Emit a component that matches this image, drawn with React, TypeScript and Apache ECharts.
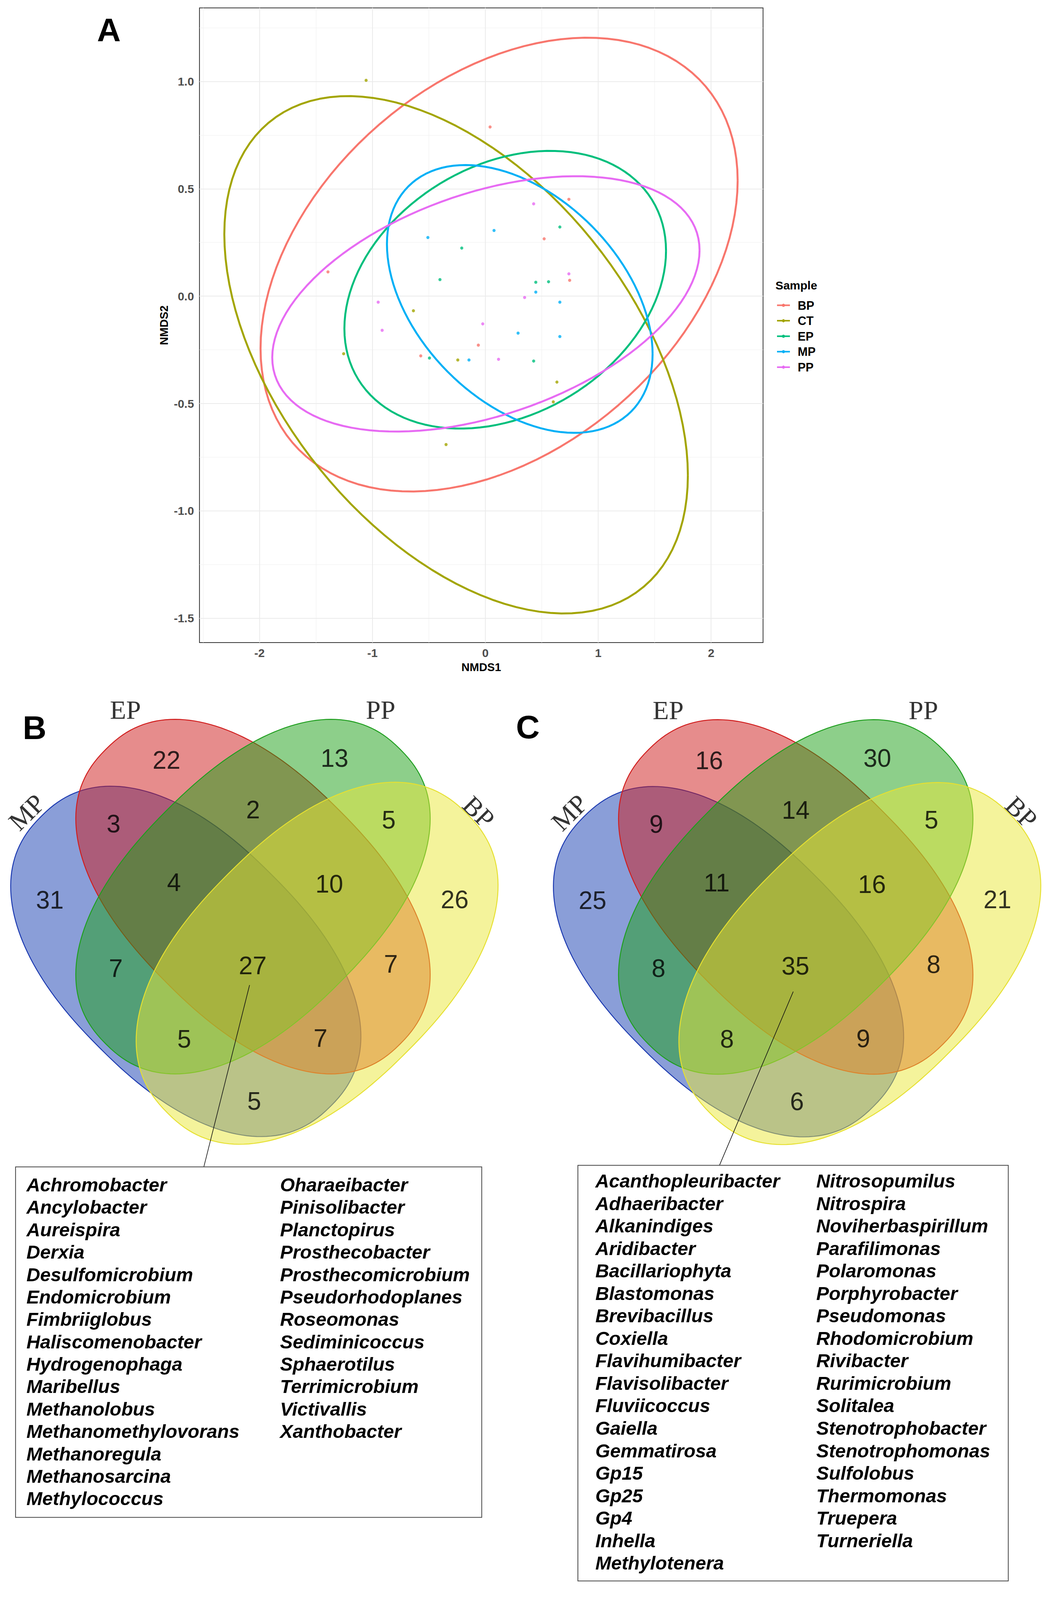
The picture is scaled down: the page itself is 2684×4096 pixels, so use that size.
import React, { useEffect, useRef } from 'react';
import * as echarts from 'echarts';

const W = 2684;
const H = 4096;
const K = 0.797; // reference px -> output px
const SANS = "'Liberation Sans', Arial, sans-serif";
const SERIF = "'Liberation Serif', 'Times New Roman', serif";

// ---------------- Panel A data ----------------
const groups = ['BP', 'CT', 'EP', 'MP', 'PP'];
const groupColors = ['#F8766D', '#A3A500', '#00BF7D', '#00B0F6', '#E76BF3'];

const ptsBP = [[0.042, 0.788], [0.740, 0.451], [0.521, 0.267], [-1.394, 0.113], [0.747, 0.074], [-0.062, -0.228], [-0.572, -0.278]];
const ptsCT = [[-1.056, 1.005], [-0.637, -0.068], [-1.255, -0.268], [-0.244, -0.297], [0.634, -0.400], [0.602, -0.492], [-0.348, -0.691]];
const ptsEP = [[0.660, 0.322], [-0.209, 0.224], [-0.402, 0.077], [0.447, 0.065], [0.560, 0.067], [-0.495, -0.288], [0.428, -0.302]];
const ptsMP = [[0.077, 0.306], [-0.509, 0.273], [0.447, 0.019], [0.660, -0.028], [0.290, -0.172], [0.660, -0.188], [-0.145, -0.297]];
const ptsPP = [[0.428, 0.430], [0.740, 0.104], [0.348, -0.006], [-0.949, -0.028], [-0.023, -0.129], [-0.914, -0.159], [0.117, -0.294]];
const groupPoints = [ptsBP, ptsCT, ptsEP, ptsMP, ptsPP];

// confidence ellipses (centre, half extent in x / y, correlation)
const ellCenterX = [0.122, -0.259, 0.176, 0.305, 0.005];
const ellCenterY = [0.147, -0.273, 0.030, -0.013, -0.036];
const ellHalfX = [2.113, 2.053, 1.4245, 1.1765, 1.8925];
const ellHalfY = [1.0565, 1.2045, 0.6465, 0.6235, 0.5945];
const ellCorr = [0.37, -0.466, 0.28, -0.41, 0.42];

const X_MIN = -2.532;
const X_MAX = 2.46;
const Y_MIN = -1.613;
const Y_MAX = 1.342;
const xMajor = [-2, -1, 0, 1, 2];
const xMinor = [-2.5, -1.5, -0.5, 0.5, 1.5];
const yMajor = [-1.5, -1, -0.5, 0, 0.5, 1];
const yMinor = [-1.25, -0.75, -0.25, 0.25, 0.75, 1.25];

// ---------------- Venn data ----------------
const vennSets = ['MP', 'EP', 'PP', 'BP'];
const vennRegions = ['EP', 'PP', 'MP&EP', 'EP&PP', 'PP&BP', 'MP', 'MP&EP&PP', 'EP&PP&BP', 'BP', 'MP&PP', 'MP&EP&PP&BP', 'EP&BP', 'MP&PP&BP', 'MP&EP&BP', 'MP&BP'];
const countsB = [22, 13, 3, 2, 5, 31, 4, 10, 26, 7, 27, 7, 5, 7, 5];
const countsC = [16, 30, 9, 14, 5, 25, 11, 16, 21, 8, 35, 8, 8, 9, 6];

const listB1 = ['Achromobacter', 'Ancylobacter', 'Aureispira', 'Derxia', 'Desulfomicrobium', 'Endomicrobium', 'Fimbriiglobus', 'Haliscomenobacter', 'Hydrogenophaga', 'Maribellus', 'Methanolobus', 'Methanomethylovorans', 'Methanoregula', 'Methanosarcina', 'Methylococcus'];
const listB2 = ['Oharaeibacter', 'Pinisolibacter', 'Planctopirus', 'Prosthecobacter', 'Prosthecomicrobium', 'Pseudorhodoplanes', 'Roseomonas', 'Sediminicoccus', 'Sphaerotilus', 'Terrimicrobium', 'Victivallis', 'Xanthobacter'];
const listC1 = ['Acanthopleuribacter', 'Adhaeribacter', 'Alkanindiges', 'Aridibacter', 'Bacillariophyta', 'Blastomonas', 'Brevibacillus', 'Coxiella', 'Flavihumibacter', 'Flavisolibacter', 'Fluviicoccus', 'Gaiella', 'Gemmatirosa', 'Gp15', 'Gp25', 'Gp4', 'Inhella', 'Methylotenera'];
const listC2 = ['Nitrosopumilus', 'Nitrospira', 'Noviherbaspirillum', 'Parafilimonas', 'Polaromonas', 'Porphyrobacter', 'Pseudomonas', 'Rhodomicrobium', 'Rivibacter', 'Rurimicrobium', 'Solitalea', 'Stenotrophobacter', 'Stenotrophomonas', 'Sulfolobus', 'Thermomonas', 'Truepera', 'Turneriella'];

// ---------------- Venn layout (units = reference px around the diagram centre) ----------------
const VENN_EXP = 2.3; // superellipse exponent of the set shapes
const vennShapeCenter = [[-216, 208], [0, 0], [0, 0], [206, 214]];
const vennShapeA = [658, 669, 669, 680];
const vennShapeB = [392, 392, 392, 405];
const vennShapeRot = [-1, -1, 1, 1];
const vennFill = ['rgba(21,61,177,0.5)', 'rgba(205,25,25,0.5)', 'rgba(27,159,21,0.5)', 'rgba(233,231,55,0.5)'];
const vennStroke = ['#1A38B0', '#D01C1C', '#1E9E1E', '#E6E030'];
const regionPos = [[-278, -438], [262, -445], [-448, -234], [0, -279], [436, -247], [-653, 11], [-254, -45], [245, -40], [648, 9], [-441, 230], [-1, 222], [443, 217], [-221, 457], [217, 455], [4, 657]];
const setLabelPos = [[-727, -271], [-410, -600], [410, -600], [725, -272]];
const setLabelRot = [45, 0, 0, -45];
const leaderB = [[-11, 284], [-158, 868]];
const leaderC = [[-8, 304], [-245, 862]];
const vennCentersRef = [[813, 2880], [2557, 2881]];

function ellipseOutline(i: number) {
  const pts: number[][] = [];
  const n = 120;
  const r = ellCorr[i];
  const q = Math.sqrt(1 - r * r);
  for (let k = 0; k <= n; k++) {
    const t = (2 * Math.PI * k) / n;
    pts.push([ellCenterX[i] + ellHalfX[i] * Math.cos(t), ellCenterY[i] + ellHalfY[i] * (r * Math.cos(t) + q * Math.sin(t))]);
  }
  return pts;
}

function shapePoints(cx: number, cy: number, scale: number, rot: number, A: number, B: number) {
  const pts: number[][] = [];
  const n = 180;
  const e = 2 / VENN_EXP;
  const s2 = Math.SQRT1_2;
  for (let k = 0; k < n; k++) {
    const t = (2 * Math.PI * k) / n;
    const c = Math.cos(t);
    const s = Math.sin(t);
    const p = A * Math.sign(c) * Math.pow(Math.abs(c), e);
    const q = B * Math.sign(s) * Math.pow(Math.abs(s), e);
    const u = (p + q) * s2;
    const v = rot < 0 ? (p - q) * s2 : (q - p) * s2;
    pts.push([cx + u * scale, cy + v * scale]);
  }
  return pts;
}

function buildOption() {
  const gridA = { left: 641 * K, top: 25.5 * K, width: (2452 - 641) * K, height: (2064 - 25.5) * K };
  const vw = 1600 * K;
  const vh = 1700 * K;
  const vennGrids = vennCentersRef.map((c) => ({ left: c[0] * K - 800 * K, top: c[1] * K - 800 * K, width: vw, height: vh }));

  const axisLabelStyle = { color: '#4D4D4D', fontWeight: 'bold', fontSize: 30, fontFamily: SANS };
  const gridLines = [
    ...xMinor.map((v) => ({ xAxis: v, lineStyle: { color: '#F0F0F0', width: 1.2, type: 'solid' } })),
    ...yMinor.map((v) => ({ yAxis: v, lineStyle: { color: '#F0F0F0', width: 1.2, type: 'solid' } })),
    ...xMajor.map((v) => ({ xAxis: v, lineStyle: { color: '#EBEBEB', width: 2, type: 'solid' } })),
    ...yMajor.map((v) => ({ yAxis: v, lineStyle: { color: '#EBEBEB', width: 2, type: 'solid' } })),
  ];

  const series: any[] = [];
  groups.forEach((g, i) => {
    series.push({
      type: 'line', name: g, xAxisIndex: 0, yAxisIndex: 0, data: ellipseOutline(i), showSymbol: false, symbol: 'circle', symbolSize: 8,
      lineStyle: { color: groupColors[i], width: 5 }, itemStyle: { color: groupColors[i] }, z: 4, silent: true, smooth: false,
    });
  });
  series.push({
    type: 'scatter', name: '_grid', xAxisIndex: 0, yAxisIndex: 0, data: [], silent: true, z: 1,
    markLine: { silent: true, z: 1, symbol: ['none', 'none'], label: { show: false }, emphasis: { disabled: true }, data: gridLines },
  });
  groups.forEach((g, i) => {
    series.push({
      type: 'scatter', name: g, xAxisIndex: 0, yAxisIndex: 0, data: groupPoints[i], symbolSize: 8, z: 3,
      itemStyle: { color: groupColors[i] }, silent: true,
    });
  });

  const counts = [countsB, countsC];
  const leaders = [leaderB, leaderC];
  [1, 2].forEach((gi, k) => {
    series.push({
      type: 'custom', name: 'venn' + gi, xAxisIndex: gi, yAxisIndex: gi, clip: false, silent: true, z: 2,
      data: vennShapeCenter.map((c, i) => [c[0], c[1], vennShapeRot[i], i]),
      renderItem: (params: any, api: any) => {
        const i = api.value(3);
        const p = api.coord([api.value(0), api.value(1)]);
        const scale = Math.abs(api.size([1, 1])[0]);
        return {
          type: 'polygon',
          shape: { points: shapePoints(p[0], p[1], scale, api.value(2), vennShapeA[i], vennShapeB[i]) },
          style: { fill: vennFill[i], stroke: vennStroke[i], lineWidth: 2.4 },
        };
      },
    });
    series.push({
      type: 'scatter', name: 'counts' + gi, xAxisIndex: gi, yAxisIndex: gi, silent: true, z: 5, symbolSize: 1,
      itemStyle: { color: 'rgba(0,0,0,0)' },
      data: regionPos.map((p, i) => ({ name: vennRegions[i], value: [p[0], p[1], counts[k][i]] })),
      label: { show: true, position: 'inside', formatter: (p: any) => String(p.value[2]), color: '#000', fontSize: 64, fontFamily: SANS },
    });
    series.push({
      type: 'scatter', name: 'sets' + gi, xAxisIndex: gi, yAxisIndex: gi, silent: true, z: 5, symbolSize: 1,
      itemStyle: { color: 'rgba(0,0,0,0)' },
      data: vennSets.map((s, i) => ({ name: s, value: setLabelPos[i], label: { rotate: setLabelRot[i] } })),
      label: { show: true, position: 'inside', formatter: '{b}', color: '#000', fontSize: 68, fontFamily: SERIF },
    });
    series.push({
      type: 'line', name: 'leader' + gi, xAxisIndex: gi, yAxisIndex: gi, data: leaders[k], showSymbol: false, symbol: 'none',
      clip: false, silent: true, z: 6, lineStyle: { color: '#111', width: 1.6 },
    });
  });

  const textEl = (text: string, x: number, y: number, font: string, align = 'center', vAlign = 'middle', extra: any = {}) => ({
    type: 'text', x, y, silent: true, z: 10,
    style: { text, font, fill: '#000', align, verticalAlign: vAlign, textAlign: align, textVerticalAlign: vAlign, ...extra },
  });
  const listFont = `italic bold 48.6px ${SANS}`;
  const graphic: any[] = [
    textEl('A', 350 * K, 97 * K, `bold 84px ${SANS}`),
    textEl('B', 111 * K, 2338 * K, `bold 84px ${SANS}`),
    textEl('C', 1696 * K, 2335 * K, `bold 84px ${SANS}`),
    textEl('Sample', 2492 * K, 917 * K, `bold 30px ${SANS}`, 'left'),
    { type: 'rect', silent: true, z: 9, shape: { x: 50 * K, y: 3748 * K, width: (1548 - 50) * K, height: (4874 - 3748) * K }, style: { fill: 'none', stroke: '#444', lineWidth: 2 } },
    { type: 'rect', silent: true, z: 9, shape: { x: 1857 * K, y: 3743 * K, width: (3240 - 1857) * K, height: (5078 - 3743) * K }, style: { fill: 'none', stroke: '#444', lineWidth: 2 } },
    textEl(listB1.join('\n'), 85 * K, 3805.5 * K - 28.7, listFont, 'left', 'top', { lineHeight: 72 * K }),
    textEl(listB2.join('\n'), 900 * K, 3805.5 * K - 28.7, listFont, 'left', 'top', { lineHeight: 72 * K }),
    textEl(listC1.join('\n'), 1913 * K, 3793 * K - 28.75, listFont, 'left', 'top', { lineHeight: 72.2 * K }),
    textEl(listC2.join('\n'), 2623 * K, 3793 * K - 28.75, listFont, 'left', 'top', { lineHeight: 72.2 * K }),
  ];

  return {
    animation: false,
    backgroundColor: '#ffffff',
    grid: [
      { ...gridA, show: true, borderColor: '#333333', borderWidth: 2, backgroundColor: '#ffffff' },
      ...vennGrids,
    ],
    xAxis: [
      {
        gridIndex: 0, type: 'value', min: X_MIN, max: X_MAX,
        name: 'NMDS1', nameLocation: 'middle', nameGap: 48,
        nameTextStyle: { color: '#000', fontWeight: 'bold', fontSize: 29, fontFamily: SANS },
        axisLine: { show: false },
        axisTick: { show: true, customValues: xMajor, length: 6.4, lineStyle: { color: '#333', width: 2 } },
        axisLabel: { customValues: xMajor, margin: 11, ...axisLabelStyle, formatter: (v: number) => String(v) },
        splitLine: { show: false },
      },
      { gridIndex: 1, type: 'value', min: -800, max: 800, show: false },
      { gridIndex: 2, type: 'value', min: -800, max: 800, show: false },
    ],
    yAxis: [
      {
        gridIndex: 0, type: 'value', min: Y_MIN, max: Y_MAX,
        name: 'NMDS2', nameLocation: 'middle', nameGap: 70,
        nameTextStyle: { color: '#000', fontWeight: 'bold', fontSize: 29, fontFamily: SANS },
        axisLine: { show: false },
        axisTick: { show: true, customValues: yMajor, length: 6.4, lineStyle: { color: '#333', width: 2 } },
        axisLabel: { customValues: yMajor, margin: 14, ...axisLabelStyle, formatter: (v: number) => v.toFixed(1) },
        splitLine: { show: false },
      },
      { gridIndex: 1, type: 'value', min: -800, max: 900, inverse: true, show: false },
      { gridIndex: 2, type: 'value', min: -800, max: 900, inverse: true, show: false },
    ],
    legend: {
      data: groups,
      orient: 'vertical',
      left: 1988,
      top: 766,
      padding: 0,
      itemWidth: 33,
      itemHeight: 10,
      itemGap: 8.6,
      selectedMode: false,
      lineStyle: { width: 4 },
      formatter: (name: string) => `{g|}${name}`,
      textStyle: {
        color: '#000', fontWeight: 'bold', fontSize: 30.5, fontFamily: SANS, lineHeight: 30,
        rich: { g: { width: 15 } },
      },
    },
    series,
    graphic,
  };
}

export default function App() {
  const ref = useRef<HTMLDivElement>(null);
  useEffect(() => {
    const chart = echarts.init(ref.current as HTMLDivElement, null, { renderer: 'svg', width: W, height: H });
    chart.setOption(buildOption() as any);
    return () => chart.dispose();
  }, []);
  return <div ref={ref} style={{ position: 'absolute', left: 0, top: 0, width: W, height: H, background: '#fff' }} />;
}
